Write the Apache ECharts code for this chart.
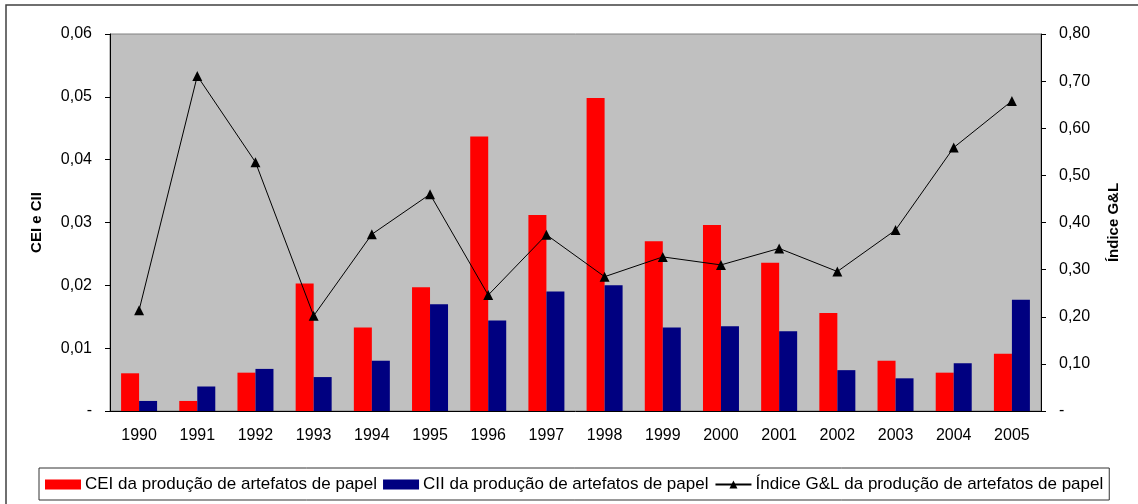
<!DOCTYPE html>
<html>
<head>
<meta charset="utf-8">
<script src="https://cdn.jsdelivr.net/npm/echarts@6/dist/echarts.min.js"></script>
<style>
  html, body { margin: 0; padding: 0; background: #fff; }
  #main { width: 1138px; height: 504px; }
</style>
</head>
<body>
<div id="main"></div>
<script>
// anos
var anos = ['1990','1991','1992','1993','1994','1995','1996','1997','1998','1999','2000','2001','2002','2003','2004','2005'];
// CEI (eixo esquerdo)
var cei = [0.0060, 0.0016, 0.0061, 0.0203, 0.0133, 0.0197, 0.0437, 0.0312, 0.0498, 0.0270, 0.0296, 0.0236, 0.0156, 0.0080, 0.0061, 0.0091];
// CII (eixo esquerdo)
var cii = [0.0016, 0.0039, 0.0067, 0.0054, 0.0080, 0.0170, 0.0144, 0.0190, 0.0200, 0.0133, 0.0135, 0.0127, 0.0065, 0.0052, 0.0076, 0.0177];
// Indice G&L (eixo direito)
var gl = [0.214, 0.711, 0.528, 0.202, 0.375, 0.460, 0.246, 0.374, 0.285, 0.327, 0.310, 0.345, 0.296, 0.384, 0.559, 0.658];

var nomes = ['CEI da produção de artefatos de papel', 'CII da produção de artefatos de papel', 'Índice G&L da produção de artefatos de papel'];

var fonte = 'Liberation Sans, Arial, sans-serif';

function rotulo(v) {
    if (v === 0) return '-';
    return v.toFixed(2).replace('.', ',');
}

var chart = echarts.init(document.getElementById('main'));

var option = {
    animation: false,
    textStyle: { fontFamily: fonte },
    // moldura externa
    graphic: [{
        type: 'rect',
        shape: { x: 6, y: 5, width: 1200, height: 560 },
        style: { fill: null, stroke: '#404040', lineWidth: 1.5 },
        silent: true
    }],
    grid: {
        left: 110, right: 97, top: 34, bottom: 93,
        show: true,
        backgroundColor: '#C0C0C0',
        borderColor: '#808080',
        borderWidth: 1
    },
    legend: {
        left: 39, top: 468,
        padding: [8, 6, 7, 6],
        borderColor: '#333',
        borderWidth: 1,
        itemWidth: 36, itemHeight: 10,
        itemGap: 6,
        textStyle: { fontSize: 17, color: '#000', fontFamily: fonte, padding: [0, 0, 0, -1] },
        data: [
            { name: nomes[0], icon: 'rect' },
            { name: nomes[1], icon: 'rect' },
            { name: nomes[2] }
        ]
    },
    xAxis: {
        type: 'category',
        data: anos,
        axisLine: { lineStyle: { color: '#000', width: 1 } },
        axisTick: { length: 5, lineStyle: { color: '#000' } },
        axisLabel: { fontSize: 16, color: '#000', margin: 17 }
    },
    yAxis: [{
        type: 'value',
        min: 0, max: 0.06, interval: 0.01,
        name: 'CEI e CII',
        nameLocation: 'middle',
        nameRotate: 90,
        nameGap: 66,
        nameTextStyle: { fontSize: 15, fontWeight: 'bold', color: '#000' },
        splitLine: { show: false },
        axisLine: { show: true, lineStyle: { color: '#000' } },
        axisTick: { show: true, length: 5, lineStyle: { color: '#000' } },
        axisLabel: { fontSize: 16, color: '#000', margin: 18, formatter: rotulo }
    }, {
        type: 'value',
        position: 'right',
        min: 0, max: 0.8, interval: 0.1,
        name: 'Índice G&L',
        nameLocation: 'middle',
        nameRotate: 90,
        nameGap: 65,
        nameTextStyle: { fontSize: 15, fontWeight: 'bold', color: '#000' },
        splitLine: { show: false },
        axisLine: { show: true, lineStyle: { color: '#000' } },
        axisTick: { show: true, length: 5, lineStyle: { color: '#000' } },
        axisLabel: { fontSize: 16, color: '#000', margin: 18, formatter: rotulo }
    }],
    series: [{
        name: nomes[0],
        type: 'bar',
        data: cei,
        barWidth: 18,
        barGap: '0%',
        itemStyle: { color: '#FF0000' }
    }, {
        name: nomes[1],
        type: 'bar',
        data: cii,
        barWidth: 18,
        itemStyle: { color: '#000080' }
    }, {
        name: nomes[2],
        type: 'line',
        yAxisIndex: 1,
        data: gl,
        symbol: 'triangle',
        symbolSize: 10,
        lineStyle: { color: '#000', width: 1 },
        itemStyle: { color: '#000' }
    }]
};

chart.setOption(option);
</script>
</body>
</html>
